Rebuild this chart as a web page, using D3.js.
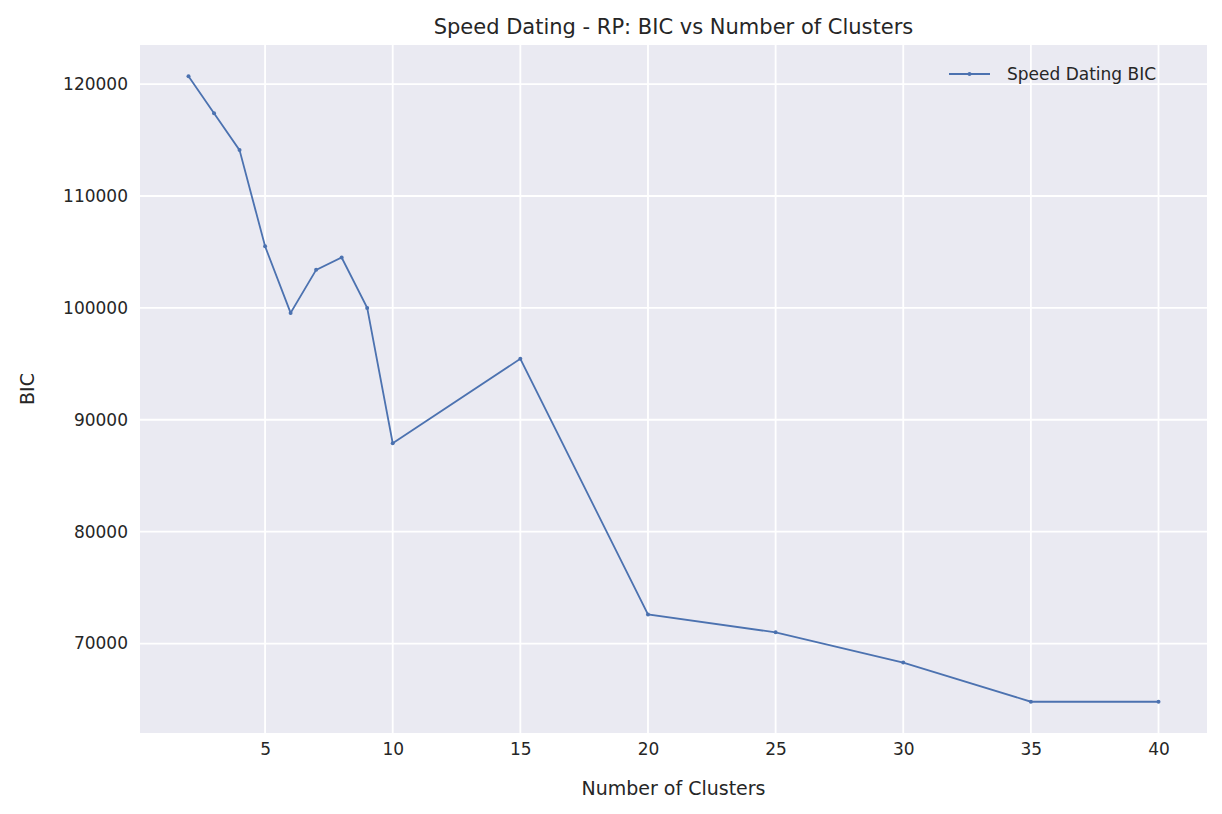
<!DOCTYPE html>
<html><head><meta charset="utf-8">
<script src="https://cdn.jsdelivr.net/npm/d3@7"></script>
<style>body{margin:0;background:#fff;font-family:"DejaVu Sans",sans-serif;}</style>
</head><body>
<svg id="c" width="1222" height="814"></svg>
<script>
const clusters = [2,3,4,5,6,7,8,9,10,15,20,25,30,35,40];
const bic = [120700,117400,114100,105500,99550,103400,104500,100000,87900,95450,72600,71000,68300,64800,64800];
const xTicks = [5,10,15,20,25,30,35,40];
const yTicks = [70000,80000,90000,100000,110000,120000];

const L=140,R=1207,T=45,B=733;
const svg=d3.select("#c");
const x=d3.scaleLinear().domain([0.1,41.9]).range([L,R]);
const y=d3.scaleLinear().domain([62005,123495]).range([B,T]);
svg.append("rect").attr("x",L).attr("y",T).attr("width",R-L).attr("height",B-T).attr("fill","#eaeaf2");
const g=svg.append("g");
xTicks.forEach(t=>g.append("line").attr("x1",x(t)).attr("x2",x(t)).attr("y1",T).attr("y2",B).attr("stroke","#fff").attr("stroke-width",1.8));
yTicks.forEach(t=>g.append("line").attr("y1",y(t)).attr("y2",y(t)).attr("x1",L).attr("x2",R).attr("stroke","#fff").attr("stroke-width",1.8));
const xa=svg.append("g").attr("transform",`translate(0,${B})`).call(d3.axisBottom(x).tickValues(xTicks).tickSize(0).tickPadding(10));
const ya=svg.append("g").attr("transform",`translate(${L},0)`).call(d3.axisLeft(y).tickValues(yTicks).tickSize(0).tickPadding(12).tickFormat(d3.format("d")));
[xa,ya].forEach(a=>{a.select(".domain").remove();a.selectAll("text").style("font-size","17px").attr("fill","#262626").style("font-family","DejaVu Sans");});
const col="#4c72b0";
svg.append("path").datum(clusters.map((c,i)=>[c,bic[i]])).attr("fill","none").attr("stroke",col).attr("stroke-width",1.8)
 .attr("d",d3.line().x(d=>x(d[0])).y(d=>y(d[1])));
svg.selectAll(".pt").data(clusters).enter().append("circle").attr("cx",d=>x(d)).attr("cy",(d,i)=>y(bic[i])).attr("r",2).attr("fill",col);
svg.append("text").attr("x",(L+R)/2).attr("y",34).attr("text-anchor","middle").style("font-size","21px").attr("fill","#262626").text("Speed Dating - RP: BIC vs Number of Clusters");
svg.append("text").attr("x",(L+R)/2).attr("y",795).attr("text-anchor","middle").style("font-size","19px").attr("fill","#262626").text("Number of Clusters");
svg.append("text").attr("transform",`translate(34,${(T+B)/2}) rotate(-90)`).attr("text-anchor","middle").style("font-size","19px").attr("fill","#262626").text("BIC");
svg.append("line").attr("x1",949).attr("x2",990).attr("y1",74).attr("y2",74).attr("stroke",col).attr("stroke-width",1.8);
svg.append("circle").attr("cx",969.5).attr("cy",74).attr("r",2).attr("fill",col);
svg.append("text").attr("x",1007).attr("y",80).style("font-size","17px").attr("fill","#262626").text("Speed Dating BIC");
</script></body></html>
